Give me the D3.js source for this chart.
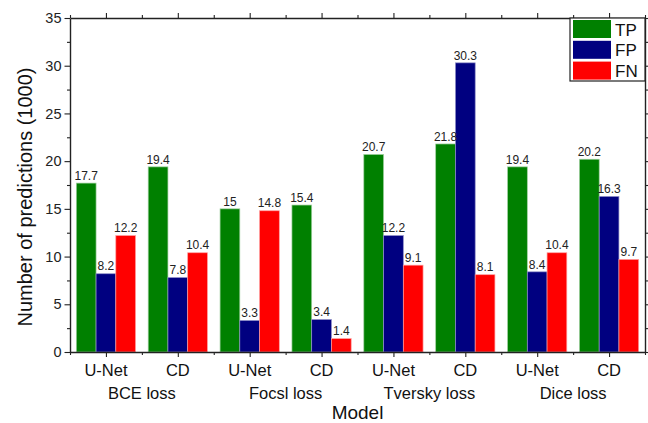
<!DOCTYPE html>
<html>
<head>
<meta charset="utf-8">
<script src="https://cdn.jsdelivr.net/npm/d3@7"></script>
<style>
  html, body { margin: 0; padding: 0; background: #fff; }
  svg { display: block; font-family: "Liberation Sans", Arial, sans-serif; }
</style>
</head>
<body>
<svg id="chart" width="648" height="423"></svg>
<script>
// Models along the x axis and the loss each pair was trained with
const models = ["U-Net", "CD", "U-Net", "CD", "U-Net", "CD", "U-Net", "CD"];
const losses = ["BCE loss", "Focsl loss", "Tversky loss", "Dice loss"];

// Predictions per model, in thousands
const seriesNames = ["TP", "FP", "FN"];
const tp = [17.7, 19.4, 15, 15.4, 20.7, 21.8, 19.4, 20.2];
const fp = [8.2, 7.8, 3.3, 3.4, 12.2, 30.3, 8.4, 16.3];
const fn = [12.2, 10.4, 14.8, 1.4, 9.1, 8.1, 10.4, 9.7];
const seriesColors = ["#008000", "#000080", "#ff0000"];
const seriesEdges = ["#9fcf9f", "#8f8fc8", "#ff9f9f"];

const yMajorTicks = [0, 5, 10, 15, 20, 25, 30, 35];
const yMinorTicks = [2.5, 7.5, 12.5, 17.5, 22.5, 27.5, 32.5];

const series = [tp, fp, fn];

const svg = d3.select("#chart");
const plotLeft = 70, plotRight = 645, plotTop = 18, plotBottom = 352;

const x = d3.scaleBand().domain(d3.range(models.length)).range([plotLeft, plotRight]).padding(0);
const inner = d3.scaleBand().domain(d3.range(series.length))
  .range([0, x.bandwidth()]).paddingOuter(0.32).paddingInner(0);
const y = d3.scaleLinear().domain([0, 35]).range([plotBottom, plotTop]);

// Bars
const groups = svg.append("g").selectAll("g")
  .data(models.map((m, i) => i))
  .join("g")
  .attr("transform", i => `translate(${x(i)},0)`);

groups.selectAll("rect")
  .data(i => series.map((s, k) => ({ k, v: s[i] })))
  .join("rect")
  .attr("x", d => inner(d.k))
  .attr("y", d => y(d.v))
  .attr("width", inner.bandwidth())
  .attr("height", d => y(0) - y(d.v))
  .attr("fill", d => seriesColors[d.k])
  .attr("stroke", d => seriesEdges[d.k])
  .attr("stroke-width", 0.7);

// Value labels
groups.selectAll("text")
  .data(i => series.map((s, k) => ({ k, v: s[i] })))
  .join("text")
  .attr("x", d => inner(d.k) + inner.bandwidth() / 2)
  .attr("y", d => y(d.v) - 3.3)
  .attr("text-anchor", "middle")
  .attr("font-size", 12)
  .attr("fill", "#222")
  .text(d => d.v);

// Axes: left/bottom ticks point outward, top/right ticks point inward
const axisColor = "#222";
const yLeft = svg.append("g").attr("transform", `translate(${plotLeft},0)`)
  .call(d3.axisLeft(y).tickValues(yMajorTicks).tickSize(5.5).tickPadding(3).tickSizeOuter(0));
yLeft.selectAll("text").attr("font-size", 14.5).attr("fill", "#222").attr("font-family", "Liberation Sans, Arial, sans-serif");
svg.append("g").attr("transform", `translate(${plotLeft},0)`)
  .call(d3.axisLeft(y).tickValues(yMinorTicks).tickSize(3).tickFormat("").tickSizeOuter(0))
  .select(".domain").remove();

svg.append("g").attr("transform", `translate(${plotRight},0)`)
  .call(d3.axisLeft(y).tickValues(yMajorTicks).tickSize(-5.5).tickFormat("").tickSizeOuter(0));
svg.append("g").attr("transform", `translate(${plotRight},0)`)
  .call(d3.axisLeft(y).tickValues(yMinorTicks).tickSize(-3).tickFormat("").tickSizeOuter(0))
  .select(".domain").remove();

// Category ticks at bar group centres, minor ticks at the boundaries
const xCenters = models.map((m, i) => x(i) + x.bandwidth() / 2);
const xBounds = d3.range(models.length + 1).map(i => plotLeft + i * x.step());
const xLin = d3.scaleLinear().domain([plotLeft, plotRight]).range([plotLeft, plotRight]);

function xTicks(yPos, majorLen, minorLen) {
  const g = svg.append("g").attr("transform", `translate(0,${yPos})`);
  g.call(d3.axisBottom(xLin).tickValues(xCenters).tickSize(majorLen).tickFormat("").tickSizeOuter(0));
  g.append("g").call(d3.axisBottom(xLin).tickValues(xBounds).tickSize(minorLen).tickFormat("").tickSizeOuter(0))
    .select(".domain").remove();
  return g;
}
xTicks(plotBottom, 5, 3);
xTicks(plotTop, -5, -3);

svg.selectAll(".domain").attr("stroke", axisColor).attr("stroke-width", 1.4);
svg.selectAll(".tick line").attr("stroke", axisColor).attr("stroke-width", 1.1);

// Category labels
svg.append("g").selectAll("text")
  .data(models)
  .join("text")
  .attr("x", (d, i) => xCenters[i])
  .attr("y", 376)
  .attr("text-anchor", "middle")
  .attr("font-size", 16.5)
  .attr("fill", "#111")
  .text(d => d);

// Loss group labels
svg.append("g").selectAll("text")
  .data(losses)
  .join("text")
  .attr("x", (d, i) => plotLeft + (2 * i + 1) * x.step())
  .attr("y", 399)
  .attr("text-anchor", "middle")
  .attr("font-size", 16.5)
  .attr("fill", "#111")
  .text(d => d);

// Axis titles
svg.append("text")
  .attr("x", (plotLeft + plotRight) / 2)
  .attr("y", 419)
  .attr("text-anchor", "middle")
  .attr("font-size", 19)
  .attr("fill", "#111")
  .text("Model");

svg.append("text")
  .attr("transform", `translate(32,197) rotate(-90)`)
  .attr("text-anchor", "middle")
  .attr("font-size", 20)
  .attr("fill", "#111")
  .text("Number of predictions (1000)");

// Legend
const lg = svg.append("g");
lg.append("rect")
  .attr("x", 570).attr("y", plotTop)
  .attr("width", plotRight - 570).attr("height", 63)
  .attr("fill", "#fff").attr("stroke", "#222").attr("stroke-width", 1.2);
seriesNames.forEach((name, k) => {
  lg.append("rect")
    .attr("x", 573).attr("y", 20 + k * 20.8)
    .attr("width", 38).attr("height", 18)
    .attr("fill", seriesColors[k]);
  lg.append("text")
    .attr("x", 615).attr("y", 35.5 + k * 20.8)
    .attr("font-size", 17)
    .attr("fill", "#111")
    .text(name);
});
</script>
</body>
</html>
